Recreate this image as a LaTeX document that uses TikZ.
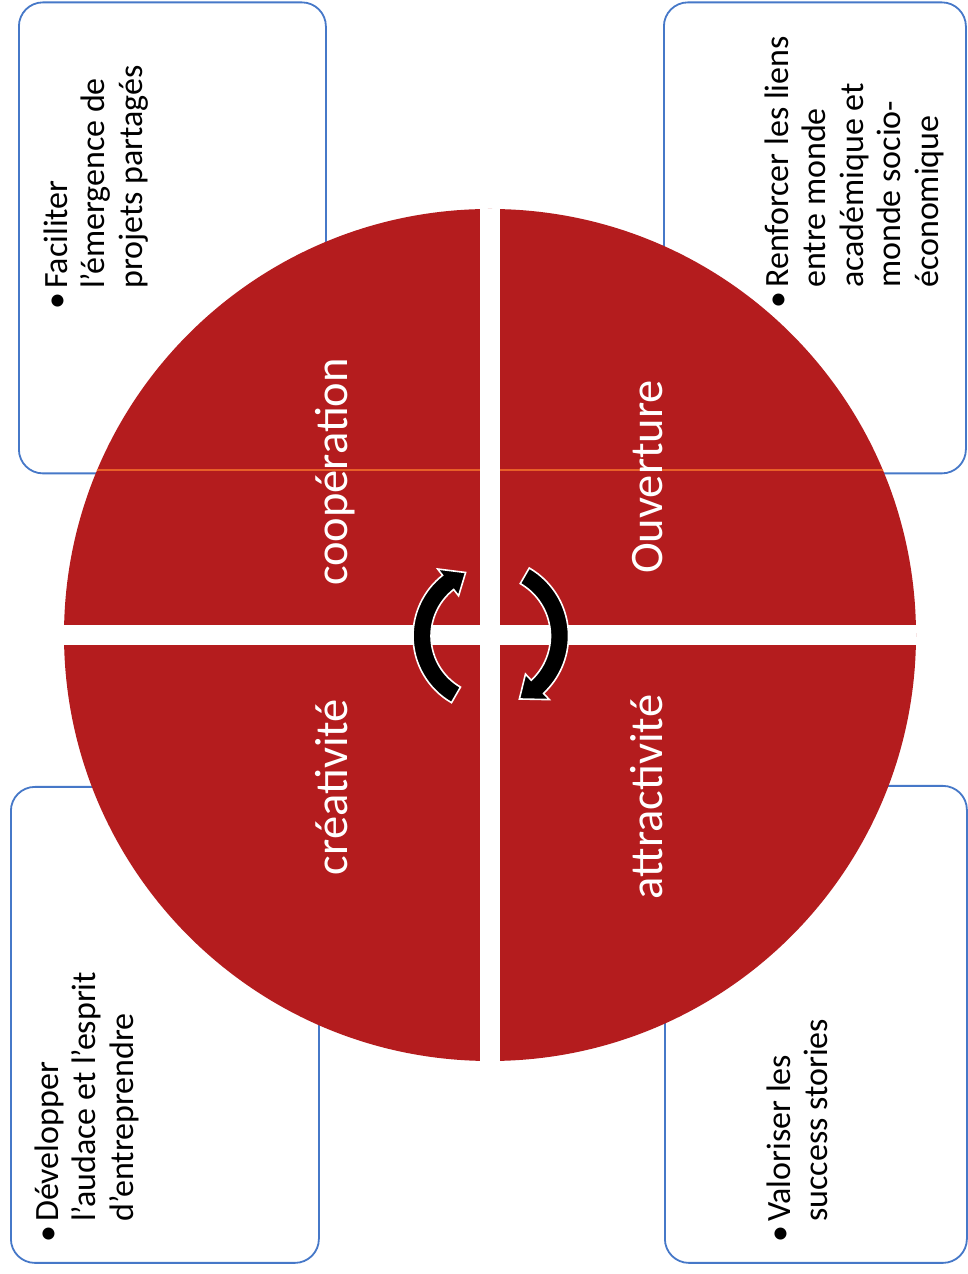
\documentclass[tikz,border=0pt]{standalone}
\usepackage{fontspec}
\setmainfont{Carlito}
\definecolor{qred}{RGB}{180,28,30}
\definecolor{boxblue}{RGB}{70,120,200}
\definecolor{scanline}{RGB}{232,96,40}
\tikzset{
  infobox/.style={draw=boxblue, line width=1.8pt, rounded corners=24pt, fill=white, inner sep=0pt, anchor=north west},
  boxtext/.style={rotate=90, anchor=north west, inner sep=0pt, align=left, font=\fontsize{34}{37.5}\selectfont, text=black},
  quadlabel/.style={rotate=90, anchor=base, inner sep=0pt, font=\fontsize{46.5}{54}\selectfont, text=white},
  cyclearrow/.style={fill=black, draw=white, line width=1.6pt, line join=miter},
}
\begin{document}
\begin{tikzpicture}[x=1pt,y=1pt]
\useasboundingbox (0,0) rectangle (968,1274);
\fill[white] (0,0) rectangle (968,1274);
% corner boxes
\node[infobox, minimum width=307pt, minimum height=471pt] (boxTL) at (18,1272.5) {};
\node[infobox, minimum width=302pt, minimum height=471pt] (boxTR) at (663,1272.5) {};
\node[infobox, minimum width=308pt, minimum height=476pt] (boxBL) at (10,488) {};
\node[infobox, minimum width=302pt, minimum height=477pt] (boxBR) at (664,489) {};
% red disc split in four quadrants
\coordinate (C) at (490,639);
\fill[qred] (C) circle (426);
\begin{scope}
  \clip (C) circle (426);
  \draw[scanline, line width=1.2pt] (60,804) -- (920,804);
  \fill[white] (480,200) rectangle (500,1080);
  \fill[white] (50,629) rectangle (930,649);
\end{scope}
% cycle arrows
\begin{scope}[shift={(490,638)}]
  \draw[cyclearrow] (240:77) arc[start angle=240, end angle=128, radius=77]
     -- (128:85) -- (111:68) -- (128:51) -- (128:59)
     arc[start angle=128, end angle=240, radius=59] -- cycle;
  \draw[cyclearrow] (60:78.5) arc[start angle=60, end angle=-47, radius=78.5]
     -- (-47:87) -- (-65:69.5) -- (-47:52) -- (-47:60.5)
     arc[start angle=-47, end angle=60, radius=60.5] -- cycle;
\end{scope}
% quadrant labels
\node[quadlabel] (coop) at (347,802) {coopération};
\node[quadlabel] (ouv) at (662,797) {Ouverture};
\node[quadlabel] (crea) at (347,487) {créativité};
\node[quadlabel] (attr) at (662,477) {attractivité};
% box texts
\node[boxtext] (tTL) at (43.5,985) {\llap{•\hspace{4pt}}Faciliter\\l’émergence de\\projets partagés};
\node[boxtext] (tTR) at (764.5,986) {\llap{•\hspace{4pt}}Renforcer les liens\\entre monde\\académique et\\monde socio-\\économique};
\node[boxtext] (tBL) at (34.5,52) {\llap{•\hspace{4pt}}Développer\\l’audace et l’esprit\\d’entreprendre};
\node[boxtext] (tBR) at (766.5,52) {\llap{•\hspace{4pt}}Valoriser les\\success stories};
\end{tikzpicture}
\end{document}
